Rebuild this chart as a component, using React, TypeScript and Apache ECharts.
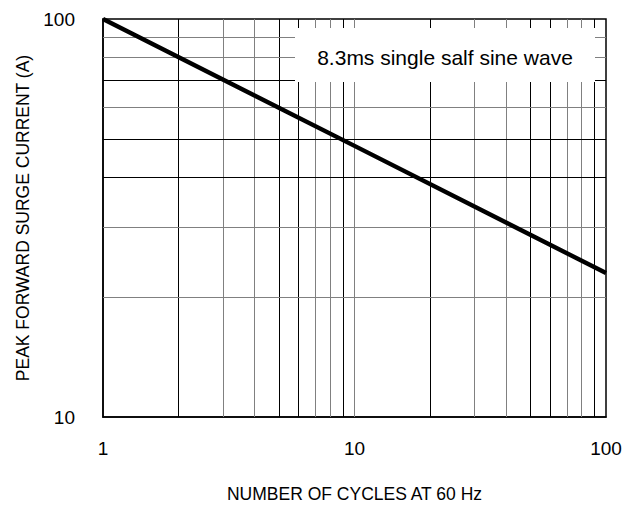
import React, { useEffect, useRef } from "react";
import * as echarts from "echarts";

const curveX = [1, 10, 100];
const curveY = [100, 48, 23];

const xGridValues = [2, 3, 4, 5, 6, 7, 8, 9, 10, 20, 30, 40, 50, 60, 70, 80, 90];
const xGridDark = [true, false, false, true, true, false, false, true, false, true, false, false, true, true, false, false, true];
const yGridValues = [20, 30, 40, 50, 60, 70, 80, 90];
const yGridDark = [false, false, true, true, false, true, false, false];

const legendText = "8.3ms single salf sine wave";
const xTitle = "NUMBER OF CYCLES AT 60 Hz";
const yTitle = "PEAK FORWARD SURGE CURRENT (A)";

export default function App() {
  const ref = useRef<HTMLDivElement>(null);
  useEffect(() => {
    const chart = echarts.init(ref.current!, null, { renderer: "svg" });
    const font = "'Liberation Sans', Arial, sans-serif";
    const gridMarks: any[] = [];
    xGridValues.forEach((v, i) =>
      gridMarks.push({ xAxis: v, lineStyle: { color: xGridDark[i] ? "#000" : "#808080", width: 1, type: "solid" } })
    );
    yGridValues.forEach((v, i) =>
      gridMarks.push({ yAxis: v, lineStyle: { color: yGridDark[i] ? "#000" : "#808080", width: 1, type: "solid" } })
    );
    chart.setOption({
      animation: false,
      backgroundColor: "#fff",
      textStyle: { fontFamily: font },
      grid: {
        left: 103,
        right: 29,
        top: 19,
        bottom: 91,
        show: true,
        borderColor: "#000",
        borderWidth: 1.5,
        backgroundColor: "transparent",
      },
      xAxis: {
        type: "log",
        logBase: 10,
        min: 1,
        max: 100,
        axisLine: { show: true, lineStyle: { color: "#000", width: 1.5 } },
        axisTick: { show: false },
        splitLine: { show: false },
        axisLabel: { color: "#000", fontSize: 19, margin: 22, fontFamily: font },
        name: xTitle,
        nameLocation: "middle",
        nameGap: 68,
        nameTextStyle: { color: "#000", fontSize: 17.5, fontFamily: font },
      },
      yAxis: {
        type: "log",
        logBase: 10,
        min: 10,
        max: 100,
        axisLine: { show: true, lineStyle: { color: "#000", width: 1.5 } },
        axisTick: { show: false },
        splitLine: { show: false },
        axisLabel: { color: "#000", fontSize: 19, margin: 28, fontFamily: font },
        name: yTitle,
        nameLocation: "middle",
        nameGap: 69,
        nameRotate: 90,
        nameTextStyle: { color: "#000", fontSize: 17.5, fontFamily: font },
      },
      series: [
        {
          type: "line",
          data: [],
          z: 1,
          silent: true,
          markLine: {
            silent: true,
            symbol: "none",
            label: { show: false },
            animation: false,
            data: gridMarks,
          },
        },
        {
          type: "line",
          z: 5,
          data: curveX.map((x, i) => [x, curveY[i]]),
          showSymbol: false,
          symbol: "none",
          lineStyle: { color: "#000", width: 4.4 },
          silent: true,
        },
      ],
      graphic: [
        {
          type: "rect",
          z: 100,
          shape: { x: 295, y: 28, width: 300, height: 54 },
          style: { fill: "#ffffff", stroke: null },
        },
        {
          type: "text",
          z: 101,
          x: 445,
          y: 57.5,
          style: {
            text: legendText,
            fill: "#000",
            font: `21px ${font}`,
            align: "center",
            verticalAlign: "middle",
          },
        },
      ],
    });
    return () => chart.dispose();
  }, []);
  return <div ref={ref} style={{ width: 635, height: 508, position: "absolute", left: 0, top: 0 }} />;
}
